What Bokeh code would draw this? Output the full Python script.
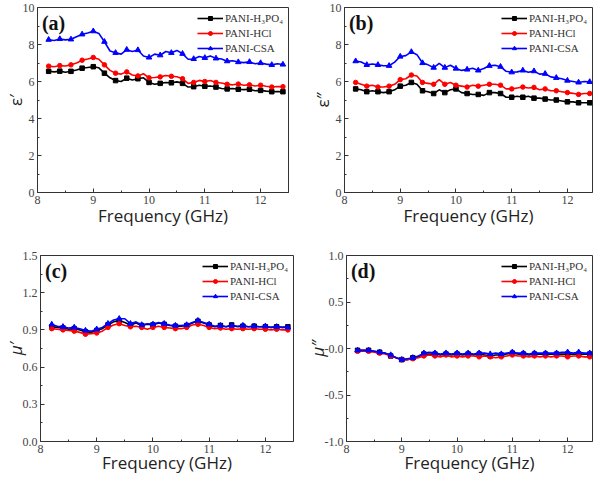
from bokeh.plotting import figure
from bokeh.layouts import column, row
from bokeh.models import Legend, LegendItem, Label, Range1d, FixedTicker
from bokeh.embed import file_html
from bokeh.resources import INLINE

# ---------------- data ----------------
freq = [8.2, 8.3, 8.4, 8.5, 8.6, 8.7, 8.8, 8.9, 9.0, 9.1, 9.2, 9.3, 9.4, 9.5, 9.6,
        9.7, 9.8, 9.9, 10.0, 10.1, 10.2, 10.3, 10.4, 10.5, 10.6, 10.7, 10.8, 10.9,
        11.0, 11.1, 11.2, 11.3, 11.4, 11.5, 11.6, 11.7, 11.8, 11.9, 12.0, 12.1,
        12.2, 12.3, 12.4]

series_names = ["PANI-H\u2083PO\u2084", "PANI-HCl", "PANI-CSA"]

# (a) eps'
h3po4_a = [6.55, 6.52, 6.56, 6.50, 6.55, 6.62, 6.72, 6.76, 6.80, 6.74, 6.45, 6.20, 6.05, 6.00, 6.18,
           6.08, 6.15, 6.20, 5.95, 5.85, 5.90, 5.95, 5.93, 5.98, 5.90, 5.70, 5.72, 5.80,
           5.74, 5.76, 5.70, 5.62, 5.60, 5.62, 5.58, 5.56, 5.58, 5.50, 5.52, 5.48, 5.45, 5.46, 5.45]
hcl_a = [6.83, 6.80, 6.86, 6.84, 6.90, 7.00, 7.15, 7.22, 7.30, 7.20, 6.90, 6.60, 6.45, 6.40, 6.52,
         6.35, 6.30, 6.42, 6.20, 6.22, 6.25, 6.32, 6.28, 6.26, 6.15, 5.90, 5.95, 6.06,
         6.00, 6.05, 5.95, 5.92, 5.85, 5.82, 5.86, 5.80, 5.82, 5.76, 5.80, 5.74, 5.70, 5.73, 5.72]
csa_a = [8.26, 8.22, 8.30, 8.25, 8.28, 8.42, 8.55, 8.62, 8.72, 8.60, 8.15, 7.65, 7.55, 7.48, 7.72,
         7.62, 7.70, 7.38, 7.30, 7.48, 7.42, 7.62, 7.55, 7.68, 7.50, 7.20, 7.22, 7.35,
         7.28, 7.38, 7.25, 7.22, 7.10, 7.12, 7.05, 7.02, 7.06, 6.96, 7.00, 6.94, 6.90, 6.96, 6.92]

# (b) eps''
h3po4_b = [5.60, 5.55, 5.45, 5.50, 5.45, 5.40, 5.45, 5.55, 5.75, 5.80, 5.95, 5.85, 5.50, 5.45, 5.35,
           5.55, 5.40, 5.55, 5.60, 5.40, 5.35, 5.30, 5.30, 5.25, 5.40, 5.40, 5.35, 5.15,
           5.15, 5.20, 5.15, 5.20, 5.10, 5.10, 5.05, 5.00, 5.00, 4.95, 4.90, 4.90, 4.85, 4.85, 4.85]
hcl_b = [5.95, 5.85, 5.75, 5.80, 5.70, 5.70, 5.75, 5.85, 6.10, 6.15, 6.35, 6.30, 5.95, 5.90, 5.85,
         6.10, 5.85, 5.95, 5.80, 5.75, 5.70, 5.80, 5.75, 5.80, 5.85, 5.85, 5.80, 5.60,
         5.60, 5.65, 5.70, 5.65, 5.68, 5.55, 5.60, 5.50, 5.50, 5.45, 5.40, 5.36, 5.30, 5.35, 5.35]
csa_b = [7.10, 7.05, 6.90, 6.95, 6.90, 6.85, 6.85, 7.05, 7.35, 7.40, 7.60, 7.45, 7.00, 6.90, 6.75,
         6.98, 6.75, 6.88, 6.70, 6.60, 6.65, 6.72, 6.60, 6.70, 6.85, 6.88, 6.80, 6.55,
         6.50, 6.52, 6.60, 6.50, 6.56, 6.40, 6.42, 6.25, 6.20, 6.15, 6.05, 6.00, 5.95, 6.00, 5.98]

# (c) mu'
h3po4_c = [0.925, 0.920, 0.915, 0.905, 0.910, 0.900, 0.885, 0.880, 0.895, 0.910, 0.940, 0.965, 0.975, 0.960, 0.940,
           0.955, 0.935, 0.945, 0.940, 0.955, 0.945, 0.935, 0.930, 0.930, 0.935, 0.955, 0.970, 0.955,
           0.940, 0.925, 0.935, 0.925, 0.940, 0.925, 0.930, 0.925, 0.930, 0.925, 0.925, 0.920, 0.925, 0.920, 0.925]
hcl_c = [0.910, 0.905, 0.900, 0.895, 0.890, 0.880, 0.865, 0.870, 0.875, 0.890, 0.920, 0.940, 0.950, 0.935, 0.925,
         0.930, 0.920, 0.905, 0.920, 0.930, 0.920, 0.915, 0.910, 0.910, 0.920, 0.940, 0.945, 0.935,
         0.920, 0.910, 0.915, 0.905, 0.910, 0.905, 0.910, 0.905, 0.910, 0.905, 0.905, 0.900, 0.905, 0.900, 0.900]
csa_c = [0.944, 0.930, 0.925, 0.915, 0.920, 0.910, 0.895, 0.890, 0.905, 0.920, 0.950, 0.980, 0.990, 0.990, 0.950,
         0.965, 0.940, 0.950, 0.945, 0.960, 0.950, 0.940, 0.935, 0.935, 0.940, 0.960, 0.975, 0.960,
         0.945, 0.930, 0.935, 0.925, 0.935, 0.930, 0.935, 0.925, 0.930, 0.925, 0.930, 0.920, 0.925, 0.920, 0.920]

# (d) mu''
h3po4_d = [-0.02, -0.02, -0.02, -0.03, -0.04, -0.05, -0.08, -0.10, -0.12, -0.12, -0.10, -0.09, -0.06, -0.06, -0.06,
           -0.07, -0.06, -0.07, -0.06, -0.07, -0.06, -0.07, -0.06, -0.07, -0.08, -0.07, -0.07, -0.06,
           -0.05, -0.06, -0.06, -0.07, -0.06, -0.06, -0.06, -0.06, -0.06, -0.06, -0.06, -0.06, -0.06, -0.06, -0.06]
hcl_d = [-0.03, -0.03, -0.03, -0.04, -0.05, -0.06, -0.08, -0.10, -0.12, -0.12, -0.11, -0.10, -0.08, -0.07, -0.08,
         -0.09, -0.07, -0.09, -0.08, -0.09, -0.08, -0.08, -0.09, -0.08, -0.09, -0.10, -0.09, -0.08,
         -0.07, -0.08, -0.08, -0.09, -0.08, -0.09, -0.08, -0.09, -0.08, -0.08, -0.09, -0.08, -0.08, -0.09, -0.09]
csa_d = [-0.02, -0.02, -0.02, -0.03, -0.04, -0.05, -0.07, -0.10, -0.12, -0.11, -0.10, -0.08, -0.05, -0.04, -0.05,
         -0.06, -0.05, -0.06, -0.05, -0.06, -0.05, -0.06, -0.05, -0.05, -0.06, -0.05, -0.06, -0.05,
         -0.04, -0.05, -0.05, -0.06, -0.05, -0.05, -0.05, -0.05, -0.05, -0.04, -0.04, -0.05, -0.04, -0.05, -0.05]

x_ticks = [8, 9, 10, 11, 12]

# ---------------- styling helpers ----------------
COLORS = ["#000000", "#ff0000", "#0000ff"]
MARKERS = ["square", "circle", "triangle"]
MSIZES = [4.5, 4.5, 5.5]
SERIF = "Liberation Serif"
SANS = "Open Sans"


def make_panel(letter, ylabel, ylabel_style, ys, y_range, y_ticks, y_over, x_end,
               width, height, b_top, b_left, b_right, b_bottom, xlab_standoff):
    ymin, ymax = y_range
    p = figure(width=width, height=height, output_backend="svg", toolbar_location=None,
               x_range=Range1d(8, x_end), y_range=Range1d(ymin, ymax),
               min_border_top=b_top, min_border_right=b_right, min_border_left=b_left,
               min_border_bottom=b_bottom)
    p.xgrid.visible = False
    p.ygrid.visible = False
    p.outline_line_color = "#333333"
    p.outline_line_width = 1
    p.background_fill_color = "white"
    p.border_fill_color = "white"

    p.xaxis.ticker = FixedTicker(ticks=x_ticks, minor_ticks=[8.5, 9.5, 10.5, 11.5, 12.5])
    minor = []
    for a, b in zip(y_ticks[:-1], y_ticks[1:]):
        minor.append((a + b) / 2)
    p.yaxis.ticker = FixedTicker(ticks=y_ticks, minor_ticks=minor)
    if y_over:
        p.yaxis.major_label_overrides = y_over

    for ax in (p.xaxis[0], p.yaxis[0]):
        ax.axis_line_color = "#333333"
        ax.major_tick_line_color = "#333333"
        ax.minor_tick_line_color = "#333333"
        ax.major_tick_in = 4
        ax.major_tick_out = 0
        ax.minor_tick_in = 2
        ax.minor_tick_out = 0
        ax.major_label_text_font = SERIF
        ax.major_label_text_font_size = "12px"
        ax.major_label_text_color = "#444444"
        ax.major_label_standoff = 3
        ax.axis_label_text_font = SANS
        ax.axis_label_text_font_size = "17px"
        ax.axis_label_text_color = "#222222"

    p.xaxis.axis_label_standoff = xlab_standoff
    p.xaxis.axis_label_text_font_style = "normal"
    p.yaxis.axis_label_standoff = -7
    p.yaxis.axis_label_text_font_style = ylabel_style

    p.xaxis.axis_label = "Frequency (GHz)"
    p.yaxis.axis_label = ylabel

    items = []
    for name, y, c, m, s in zip(series_names, ys, COLORS, MARKERS, MSIZES):
        lr = p.line(freq, y, line_color=c, line_width=1.6)
        sr = p.scatter(freq[::2], y[::2], marker=m, size=s, fill_color=c, line_color=c)
        items.append(LegendItem(label=name, renderers=[lr, sr]))

    leg = Legend(items=items, location="top_right", border_line_alpha=0,
                 background_fill_alpha=0, label_text_font=SERIF,
                 label_text_font_size="11px", label_text_color="#333333",
                 glyph_width=26, glyph_height=10, label_height=10, spacing=3,
                 padding=2, margin=3, label_standoff=2)
    p.add_layout(leg)

    p.add_layout(Label(x=8.08, y=ymax - 0.025 * (ymax - ymin), text=letter,
                       text_baseline="top",
                       text_font=SERIF, text_font_style="bold", text_font_size="20px",
                       text_color="#111111"))
    return p


pa = make_panel("(a)", "\u03b5\u2032", "normal", [h3po4_a, hcl_a, csa_a], (0, 10),
                [0, 2, 4, 6, 8, 10], None, 12.5,
                296, 236, 6, 4, 8, 44, -3)
pb = make_panel("(b)", "\u03b5\u2033", "normal", [h3po4_b, hcl_b, csa_b], (0, 10),
                [0, 2, 4, 6, 8, 10], None, 12.45,
                297, 236, 7, 48, 1, 44, -3)
pc = make_panel("(c)", "\u03bc\u2032", "italic", [h3po4_c, hcl_c, csa_c], (0, 1.5),
                [0.0, 0.3, 0.6, 0.9, 1.2, 1.5],
                {0: "0.0", 0.3: "0.3", 0.6: "0.6", 0.9: "0.9", 1.2: "1.2", 1.5: "1.5"}, 12.5,
                296, 244, 19, 4, 3, 39, -5)
pd_ = make_panel("(d)", "\u03bc\u2033", "italic", [h3po4_d, hcl_d, csa_d], (-1.0, 1.0),
                 [-1.0, -0.5, 0.0, 0.5, 1.0],
                 {-1: "-1.0", -0.5: "-0.5", 0: "-0.0", 0.5: "0.5", 1: "1.0"}, 12.45,
                 297, 244, 19, 50, 1, 39, -5)

layout = column(row(pa, pb), row(pc, pd_))

open("out.html", "w").write(file_html(layout, INLINE))
